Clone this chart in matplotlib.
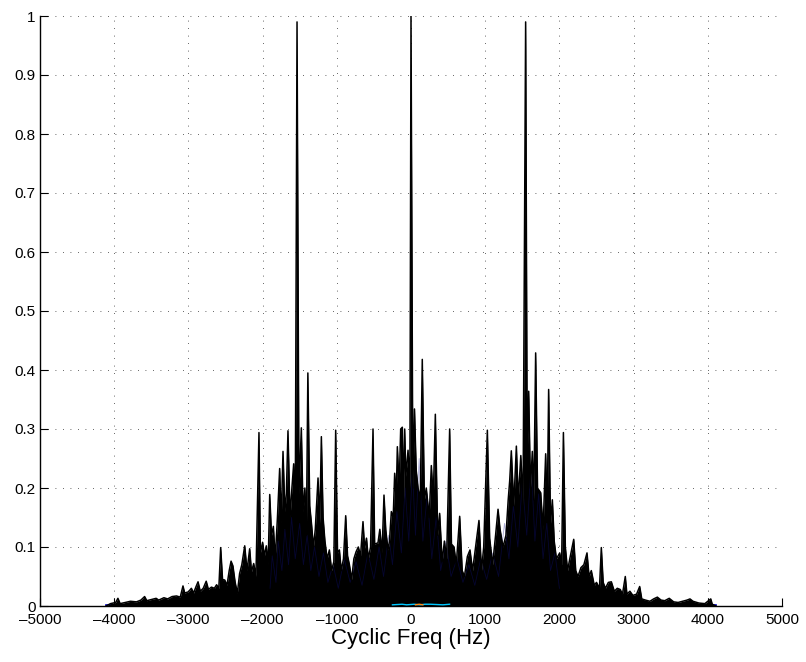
import matplotlib
matplotlib.use("Agg")
import matplotlib.pyplot as plt

# Cyclic-frequency coherence: alternating peak / valley readings (Hz, magnitude)
cyc_hz = [
    -4110, -4050, -3980, -3950, -3920, -3850, -3780, -3700, -3640, -3590,
    -3560, -3500, -3435, -3400, -3330, -3280, -3220, -3160, -3110, -3073,
    -3050, -3000, -2960, -2930, -2900, -2870, -2840, -2800, -2760, -2730,
    -2690, -2650, -2620, -2590, -2565, -2540, -2510, -2480, -2450, -2425,
    -2400, -2370, -2340, -2310, -2280, -2241, -2210, -2174, -2150, -2120,
    -2090, -2049, -2030, -2000, -1975, -1950, -1925, -1904, -1880, -1855,
    -1830, -1800, -1770, -1750, -1725, -1700, -1680, -1658, -1630, -1605,
    -1581, -1560, -1536, -1510, -1478, -1455, -1430, -1410, -1390, -1365,
    -1340, -1315, -1290, -1253, -1230, -1208, -1185, -1160, -1130, -1100,
    -1070, -1040, -1015, -990, -965, -940, -910, -880, -855, -830,
    -800, -770, -740, -710, -680, -647, -625, -600, -575, -545,
    -512, -490, -445, -420, -390, -364, -340, -310, -290, -265,
    -240, -220, -200, -184, -160, -139, -117, -100, -85, -70,
    -40, -15, 0, 25, 47, 70, 95, 125, 152, 180,
    206, 245, 274, 300, 328, 360, 386, 420, 450, 480,
    521, 545, 580, 610, 656, 690, 720, 760, 795, 830,
    870, 916, 950, 980, 1029, 1060, 1100, 1140, 1173, 1200,
    1240, 1280, 1310, 1330, 1352, 1385, 1420, 1445, 1480, 1510,
    1545, 1566, 1586, 1610, 1635, 1655, 1680, 1705, 1748, 1780,
    1815, 1835, 1855, 1880, 1905, 1930, 1960, 2004, 2030, 2054,
    2080, 2110, 2140, 2193, 2220, 2250, 2290, 2330, 2372, 2400,
    2430, 2470, 2500, 2540, 2565, 2590, 2620, 2660, 2700, 2740,
    2780, 2820, 2850, 2888, 2910, 2950, 2990, 3040, 3082, 3110,
    3160, 3220, 3270, 3320, 3370, 3420, 3480, 3540, 3600, 3660,
    3720, 3760, 3800, 3880, 3960, 4040, 4060, 4110,
]
cyc_mag = [
    0.000, 0.004, 0.006, 0.013, 0.004, 0.006, 0.008, 0.007, 0.010, 0.016,
    0.009, 0.011, 0.013, 0.010, 0.014, 0.012, 0.016, 0.017, 0.015, 0.034,
    0.022, 0.024, 0.030, 0.022, 0.032, 0.041, 0.025, 0.030, 0.042, 0.028,
    0.032, 0.030, 0.036, 0.030, 0.099, 0.045, 0.044, 0.035, 0.060, 0.076,
    0.068, 0.040, 0.022, 0.055, 0.070, 0.102, 0.060, 0.097, 0.058, 0.072,
    0.050, 0.294, 0.090, 0.108, 0.085, 0.102, 0.070, 0.189, 0.120, 0.135,
    0.080, 0.150, 0.233, 0.140, 0.262, 0.160, 0.190, 0.297, 0.150, 0.200,
    0.241, 0.150, 0.990, 0.190, 0.302, 0.160, 0.200, 0.120, 0.395, 0.170,
    0.138, 0.100, 0.130, 0.217, 0.140, 0.287, 0.150, 0.110, 0.080, 0.095,
    0.060, 0.075, 0.298, 0.090, 0.095, 0.060, 0.080, 0.153, 0.085, 0.070,
    0.045, 0.080, 0.092, 0.100, 0.085, 0.143, 0.098, 0.115, 0.080, 0.100,
    0.300, 0.105, 0.107, 0.130, 0.090, 0.188, 0.129, 0.095, 0.110, 0.160,
    0.150, 0.225, 0.180, 0.270, 0.200, 0.300, 0.303, 0.180, 0.300, 0.220,
    0.264, 0.200, 1.000, 0.200, 0.334, 0.230, 0.200, 0.180, 0.418, 0.180,
    0.200, 0.150, 0.238, 0.180, 0.325, 0.120, 0.157, 0.075, 0.110, 0.080,
    0.300, 0.105, 0.100, 0.070, 0.152, 0.060, 0.050, 0.084, 0.095, 0.060,
    0.100, 0.145, 0.060, 0.100, 0.298, 0.115, 0.070, 0.120, 0.164, 0.130,
    0.100, 0.120, 0.180, 0.212, 0.263, 0.170, 0.271, 0.180, 0.255, 0.170,
    0.990, 0.250, 0.364, 0.200, 0.262, 0.180, 0.429, 0.200, 0.192, 0.130,
    0.258, 0.150, 0.367, 0.140, 0.180, 0.110, 0.080, 0.090, 0.070, 0.294,
    0.100, 0.060, 0.080, 0.113, 0.060, 0.050, 0.065, 0.070, 0.090, 0.050,
    0.060, 0.035, 0.040, 0.030, 0.099, 0.040, 0.030, 0.040, 0.041, 0.025,
    0.030, 0.028, 0.020, 0.050, 0.020, 0.025, 0.018, 0.020, 0.033, 0.012,
    0.010, 0.008, 0.012, 0.015, 0.010, 0.009, 0.013, 0.007, 0.006, 0.008,
    0.010, 0.012, 0.008, 0.005, 0.004, 0.012, 0.003, 0.000,
]

# Lower-level trace for a neighbouring spectral bin (drawn in blue)
bin2_hz = [
    -1900, -1870, -1820, -1790, -1740, -1700, -1650, -1610, -1560, -1500,
    -1450, -1400, -1350, -1300, -1240, -1180, -1120, -1050, -980, -900,
    -820, -740, -660, -580, -500, -430, -370, -300, -250, -190,
    -130, -80, -30, 20, 60, 110, 160, 220, 280, 340,
    400, 470, 540, 620, 700, 780, 860, 940, 1020, 1100,
    1180, 1260, 1320, 1380, 1440, 1500, 1560, 1620, 1670, 1720,
    1780, 1830, 1880, 1940, 2000,
]
bin2_mag = [
    0.030, 0.085, 0.040, 0.110, 0.060, 0.130, 0.070, 0.150, 0.080, 0.140,
    0.070, 0.120, 0.060, 0.100, 0.050, 0.090, 0.040, 0.070, 0.030, 0.080,
    0.040, 0.075, 0.035, 0.090, 0.045, 0.100, 0.050, 0.120, 0.070, 0.160,
    0.090, 0.200, 0.110, 0.230, 0.120, 0.250, 0.110, 0.190, 0.080, 0.150,
    0.060, 0.110, 0.050, 0.080, 0.040, 0.070, 0.035, 0.080, 0.045, 0.090,
    0.050, 0.140, 0.080, 0.170, 0.100, 0.210, 0.120, 0.240, 0.110, 0.190,
    0.080, 0.140, 0.060, 0.090, 0.030,
]

# Baseline trace and near-zero coloured bins around the centre
base_hz = [-4110, 4110]
base_mag = [0.0012, 0.0012]
cyan_hz = [-250, -120, -60, 40, 120, 190, 260, 430, 520]
cyan_mag = [0.002, 0.003, 0.002, 0.003, 0.002, 0.003, 0.003, 0.002, 0.003]
orange_hz = [60, 110, 160]
orange_mag = [0.002, 0.003, 0.002]

x_ticks = list(range(-5000, 5001, 1000))
y_ticks = [0, 0.1, 0.2, 0.3, 0.4, 0.5, 0.6, 0.7, 0.8, 0.9, 1]
y_tick_labels = ["0", "0.1", "0.2", "0.3", "0.4", "0.5", "0.6", "0.7", "0.8", "0.9", "1"]

plt.rcParams["font.family"] = ["Liberation Sans", "DejaVu Sans"]

fig = plt.figure(figsize=(8.06, 6.62), dpi=100)
ax = fig.add_axes([40 / 806, 56 / 662, 742 / 806, 590 / 662])

grid_style = dict(color="black", linewidth=0.6, linestyle=(0, (1, 8)), alpha=0.8)
for xv in x_ticks:
    ax.axvline(xv, zorder=0, **grid_style)
for yv in y_ticks:
    ax.axhline(yv, zorder=0, **grid_style)

ax.plot(base_hz, base_mag, color="#0000cc", linewidth=1.2, zorder=1)
ax.fill_between(cyc_hz, cyc_mag, 0, color="black", linewidth=0, zorder=2)
ax.plot(bin2_hz, bin2_mag, color="#10108a", linewidth=0.6, alpha=0.35, zorder=3)
ax.plot(cyc_hz, cyc_mag, color="black", linewidth=1.1, zorder=4)
ax.plot(cyan_hz, cyan_mag, color="#00c8ff", linewidth=1.0, zorder=5)
ax.plot(orange_hz, orange_mag, color="#ff8c1a", linewidth=1.0, zorder=6)

ax.set_xlim(-5000, 5000)
ax.set_ylim(0, 1)
ax.set_xticks(x_ticks)
ax.set_xticklabels([("\u2013" + str(abs(v))) if v < 0 else str(v) for v in x_ticks])
ax.set_yticks(y_ticks)
ax.set_yticklabels(y_tick_labels)
ax.tick_params(direction="in", length=5.5, width=0.8, labelsize=11, colors="black")
ax.tick_params(axis="x", pad=5)
ax.tick_params(axis="y", pad=3)
ax.spines["top"].set_visible(False)
ax.spines["right"].set_visible(False)
ax.spines["left"].set_linewidth(1.0)
ax.spines["bottom"].set_linewidth(1.0)
ax.set_xlabel("Cyclic Freq (Hz)", fontsize=16, labelpad=1)

fig.savefig("out.png", dpi=100)
